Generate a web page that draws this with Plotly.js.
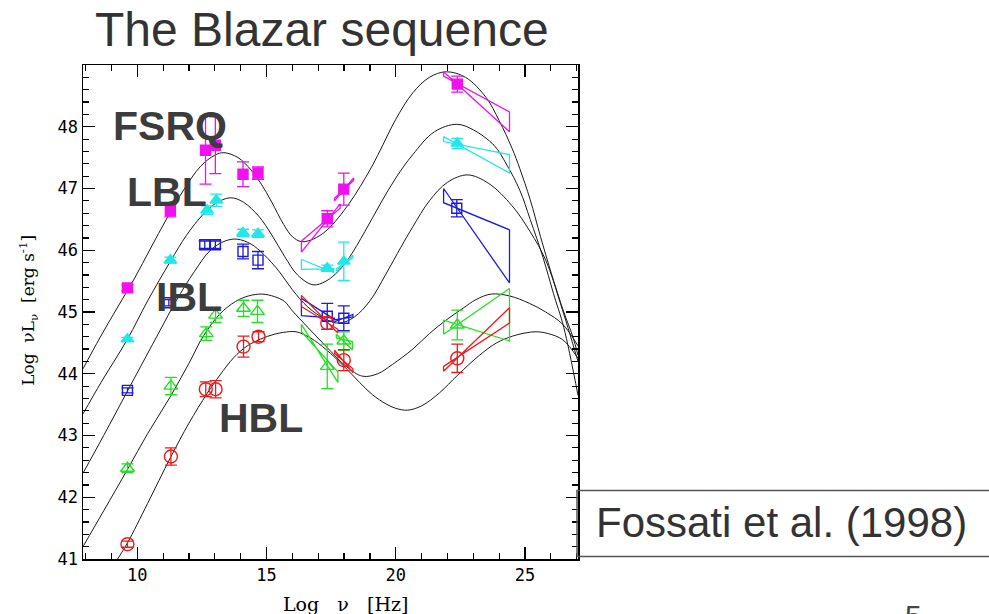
<!DOCTYPE html>
<html>
<head>
<meta charset="utf-8">
<script src="https://cdn.plot.ly/plotly-3.0.1.min.js"></script>
<style>html,body{margin:0;padding:0;background:#fff;}#chart{width:989px;height:614px;}</style>
</head>
<body>
<div id="chart"></div>
<script>
// ---------- model curves (Log nu, Log nuL_nu) ----------
const curve1Nu = [7.9,8.55,9.2,9.9,10.5,11.15,11.8,12.45,13.0,13.35,13.9,14.4,14.8,15.2,15.66,16.0,16.35,16.8,17.35,18.2,19.0,19.4,20.0,20.66,21.3,21.95,22.7,23.5,24.0,24.5,24.8,25.2,25.6,26.0,26.5,26.85,27.05];
const curve1L  = [44.08,44.58,45.05,45.55,46.02,46.52,46.98,47.36,47.54,47.58,47.5,47.3,47.07,46.78,46.42,46.22,46.14,46.18,46.33,46.76,47.3,47.62,48.12,48.55,48.8,48.89,48.8,48.47,48.1,47.65,47.32,46.82,46.22,45.65,45.0,44.6,44.3];
const curve2Nu = [7.9,8.6,9.62,10.4,11.28,11.9,12.5,13.0,13.6,14.1,14.7,15.2,15.7,16.2,16.8,17.3,17.8,18.2,18.8,19.4,20.0,20.66,21.5,22.36,23.0,23.8,24.3,24.8,25.2,25.7,26.1,26.5,27.05];
const curve2L  = [43.35,43.86,44.56,45.18,45.82,46.24,46.56,46.75,46.85,46.78,46.55,46.25,45.9,45.6,45.44,45.5,45.67,45.88,46.3,46.75,47.17,47.55,47.92,48.04,47.95,47.7,47.38,46.97,46.5,45.88,45.3,44.75,43.65];
const curve3Nu = [7.9,8.7,9.62,10.3,10.88,11.5,12.2,12.83,13.4,13.86,14.4,14.9,15.5,16.0,16.6,17.3,17.83,18.4,19.0,19.6,20.2,20.66,21.3,22.0,22.78,23.6,24.5,25.2,25.8,26.4,27.05];
const curve3L  = [42.39,43.0,43.72,44.25,44.7,45.18,45.65,46.0,46.15,46.18,46.1,45.93,45.65,45.36,45.08,44.88,44.82,44.92,45.18,45.6,46.05,46.38,46.8,47.1,47.22,47.08,46.72,46.3,45.84,45.1,44.2];
const curve4Nu = [7.9,8.7,9.62,10.4,11.28,12.0,12.57,13.2,13.8,14.3,14.82,15.3,15.7,16.0,16.6,17.31,18.08,18.72,19.3,19.87,20.66,21.3,21.95,22.6,23.1,23.69,24.4,25.17,25.8,26.46,27.05];
const curve4L  = [41.2,41.78,42.45,43.03,43.63,44.17,44.62,44.97,45.17,45.26,45.29,45.25,45.17,45.02,44.75,44.44,44.12,43.96,44.0,44.15,44.4,44.65,44.87,45.06,45.2,45.29,45.26,45.14,45.0,44.8,44.45];
const curve5Nu = [9.24,9.62,10.4,11.28,12.0,12.7,13.2,13.73,14.25,14.76,15.3,15.66,16.14,16.7,17.31,18.0,18.6,19.1,19.63,20.0,20.45,21.0,21.69,22.4,23.24,23.9,24.52,25.0,25.43,25.9,26.46,27.05];
const curve5L  = [41.0,41.26,41.9,42.64,43.2,43.68,43.98,44.26,44.45,44.56,44.64,44.67,44.68,44.58,44.39,44.12,43.86,43.66,43.51,43.44,43.41,43.48,43.69,43.98,44.3,44.5,44.61,44.66,44.68,44.65,44.55,44.25];

// ---------- average SED points per luminosity bin ----------
const fsrqNu  = [9.62,11.28,12.64,13.02,14.09,14.67,17.35,17.99,22.38];
const fsrqL   = [45.39,46.64,47.62,47.70,47.23,47.25,46.51,46.99,48.69];
const fsrqErr = [0.05,0.1,0.55,0.46,0.2,0.1,0.13,0.26,0.13];

const lblNu   = [9.62,11.28,12.70,13.06,14.09,14.67,17.35,17.99,22.38];
const lblL    = [44.56,45.84,46.65,46.81,46.28,46.27,45.71,45.82,47.73];
const lblErr  = [0.03,0.05,0.07,0.1,0.06,0.06,0.05,0.31,0.08];

const bin3Nu  = [9.62,11.22,12.61,13.02,14.09,14.67,17.35,17.99,22.36];
const bin3L   = [43.73,45.15,46.09,46.09,45.98,45.84,44.93,44.90,46.68];
const bin3Err = [0.04,0.05,0.06,0.06,0.12,0.14,0.21,0.2,0.14];

const iblNu   = [9.62,11.30,12.67,13.03,14.11,14.65,17.35,17.99,22.38];
const iblL    = [42.47,43.80,44.65,44.95,45.06,45.01,44.12,44.53,44.79];
const iblErr  = [0.07,0.14,0.11,0.12,0.13,0.18,0.36,0.15,0.24];

const hblNu   = [9.62,11.30,12.65,13.03,14.11,14.69,17.35,17.99,22.38];
const hblL    = [41.24,42.66,43.75,43.75,44.44,44.60,44.82,44.22,44.25];
const hblErr  = [0.05,0.14,0.12,0.14,0.17,0.08,0.1,0.17,0.23];

// ---------- spectral "bow-ties": [nu1, nu2, lineA_start, lineA_end, lineB_start, lineB_end] ----------
const fsrqBowties = [[16.35,17.85,46.15,46.68,45.97,46.75],[17.63,18.37,46.80,47.17,46.84,47.13],[21.85,24.40,48.89,47.92,48.82,48.24]];
const lblBowties  = [[16.35,17.60,45.85,45.64,45.69,45.70],[17.70,18.34,45.66,45.92,45.70,45.88],[21.85,24.40,47.84,47.25,47.76,47.55]];
const bin3Bowties = [[16.35,17.63,45.22,44.88,44.94,44.90],[17.57,18.34,44.83,44.96,44.87,44.92],[21.85,24.40,47.00,45.47,46.77,46.33]];
const iblBowties  = [[16.35,17.76,44.80,43.86,44.68,44.03],[17.70,18.32,44.64,44.39,44.58,44.52],[21.85,24.40,44.87,44.53,44.64,45.38]];
const hblBowties  = [[16.35,17.76,45.27,44.66,45.09,44.72],[17.63,18.34,44.38,44.02,44.33,44.08],[21.85,24.40,44.12,44.82,44.04,45.07]];

const yTickVals = [41,42,43,44,45,46,47,48];
const xTickVals = [10,15,20,25];

const colMag = '#f010f0', colCyan = '#20e8e8', colBlue = '#1c1cd8', colGreen = '#22e022', colRed = '#ec1c1c';

const traces = [];
[[curve1Nu,curve1L],[curve2Nu,curve2L],[curve3Nu,curve3L],[curve4Nu,curve4L],[curve5Nu,curve5L]].forEach(c => {
  traces.push({x:c[0], y:c[1], mode:'lines', line:{color:'#1a1a1a', width:1, shape:'spline', smoothing:1}, hoverinfo:'skip', showlegend:false});
});

function bowtieTraces(list, color){
  list.forEach(b => {
    const [n1,n2,a1,a2,b1,b2] = b;
    traces.push({x:[n1,n2,n2,n1,n1], y:[a1,a2,b2,b1,a1], mode:'lines', line:{color:color, width:1.3}, hoverinfo:'skip', showlegend:false});
  });
}
bowtieTraces(fsrqBowties, colMag);
bowtieTraces(lblBowties, colCyan);
bowtieTraces(bin3Bowties, colBlue);
bowtieTraces(iblBowties, colGreen);
bowtieTraces(hblBowties, colRed);

function pts(nu, L, err, color, symbol, size){
  traces.push({x:nu, y:L, mode:'markers', showlegend:false,
    marker:{symbol:symbol, size:size, color:color, line:{color:color, width:1.4}},
    error_y:{type:'data', array:err, visible:true, color:color, thickness:1.3, width:6}});
}
pts(fsrqNu, fsrqL, fsrqErr, colMag, 'square', 10);
pts(lblNu, lblL, lblErr, colCyan, 'triangle-up', 11);
pts(bin3Nu, bin3L, bin3Err, colBlue, 'square-open', 10);
pts(iblNu, iblL, iblErr, colGreen, 'triangle-up-open', 12);
pts(hblNu, hblL, hblErr, colRed, 'circle-open', 13);

const lblFont = {family:'Liberation Sans, Arial, sans-serif', size:41, color:'#3c3c3c'};
const axFont = {family:'DejaVu Serif, serif', size:17, color:'#000'};
const nb3 = '\u00a0\u00a0\u00a0';

const layout = {
  width:989, height:614,
  margin:{l:83, r:411, t:65, b:55},
  paper_bgcolor:'#fff', plot_bgcolor:'#fff',
  showlegend:false,
  title:{text:'The Blazar sequence', font:{family:'Liberation Sans, Arial, sans-serif', size:48, color:'#333'},
         x:95/989, xanchor:'left', xref:'container', y:1-29/614, yanchor:'middle', yref:'container'},
  xaxis:{range:[7.9,27.05], tickvals:xTickVals, ticks:'inside', ticklen:12, tickwidth:1.3, tickcolor:'#000',
         showline:true, linecolor:'#000', linewidth:1.5, mirror:'allticks', showgrid:false, zeroline:false,
         minor:{dtick:1, ticks:'inside', ticklen:6, tickwidth:1.2, tickcolor:'#000', showgrid:false},
         tickfont:{family:'DejaVu Sans Mono, monospace', size:17, color:'#000'}},
  yaxis:{range:[41,49], tickvals:yTickVals, ticks:'inside', ticklen:12, tickwidth:1.3, tickcolor:'#000',
         showline:true, linecolor:'#000', linewidth:1.5, mirror:'allticks', showgrid:false, zeroline:false,
         minor:{dtick:0.2, ticks:'inside', ticklen:6, tickwidth:1.2, tickcolor:'#000', showgrid:false},
         tickfont:{family:'DejaVu Sans Mono, monospace', size:17, color:'#000'}},
  shapes:[{type:'rect', xref:'paper', yref:'paper', x0:(577-83)/495, x1:(1000-83)/495,
           y0:(559.3-556.7)/494.3, y1:(559.3-490.7)/494.3, line:{color:'#555', width:1.5}, fillcolor:'rgba(0,0,0,0)'}],
  annotations:[
    {text:'<b>FSRQ</b>', x:11.27, y:48.01, xref:'x', yref:'y', showarrow:false, xanchor:'center', yanchor:'middle', font:lblFont},
    {text:'<b>LBL</b>', x:11.14, y:46.94, xref:'x', yref:'y', showarrow:false, xanchor:'center', yanchor:'middle', font:lblFont},
    {text:'<b>IBL</b>', x:11.99, y:45.24, xref:'x', yref:'y', showarrow:false, xanchor:'center', yanchor:'middle', font:lblFont},
    {text:'<b>HBL</b>', x:14.77, y:43.28, xref:'x', yref:'y', showarrow:false, xanchor:'center', yanchor:'middle', font:lblFont},
    {text:'Log' + nb3 + '\u03bd' + nb3 + '[Hz]', x:(345-83)/495, y:(559.3-604)/494.3, xref:'paper', yref:'paper', showarrow:false, xanchor:'center', yanchor:'middle',
     font:{family:'DejaVu Serif, serif', size:19, color:'#000'}},
    {text:'Log\u00a0\u00a0\u03bdL<sub>\u03bd</sub>\u00a0\u00a0[erg\u00a0s<sup>-1</sup>]', x:(29-83)/495, y:(559.3-311)/494.3, xref:'paper', yref:'paper', showarrow:false, xanchor:'center', yanchor:'middle', textangle:-90, font:axFont},
    {text:'Fossati et al. (1998)', x:(594-83)/495, y:(559.3-523)/494.3, xref:'paper', yref:'paper', showarrow:false, xanchor:'left', yanchor:'middle',
     font:{family:'Liberation Sans, Arial, sans-serif', size:42, color:'#333'}},
    {text:'5', x:(913-83)/495, y:(559.3-616)/494.3, xref:'paper', yref:'paper', showarrow:false, xanchor:'center', yanchor:'middle',
     font:{family:'Liberation Sans, Arial, sans-serif', size:30, color:'#444'}}
  ]
};

Plotly.newPlot('chart', traces, layout, {staticPlot:true, displayModeBar:false});
</script>
</body>
</html>
